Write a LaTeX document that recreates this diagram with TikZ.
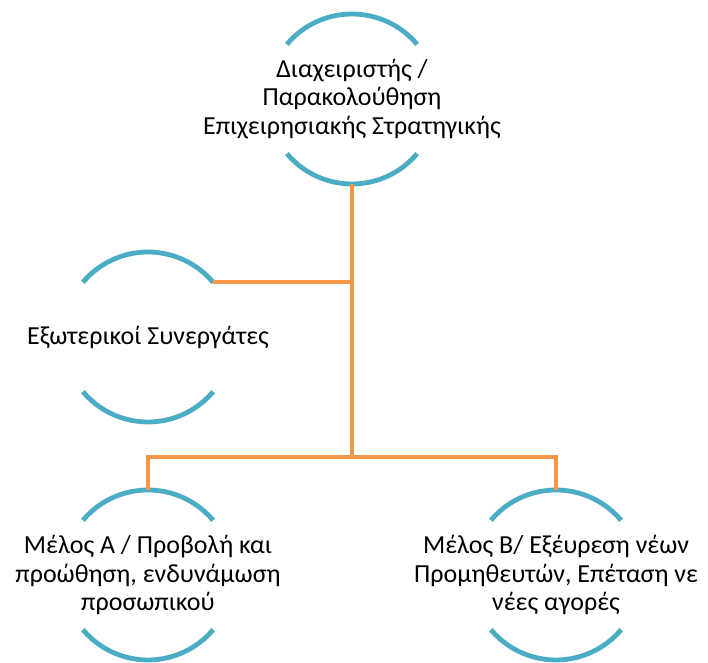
\documentclass[tikz,border=0pt]{standalone}
\usepackage{fontspec}
\setmainfont{Carlito}
\usepackage{tikz}

\definecolor{rimblue}{HTML}{4BACC6}
\definecolor{linkorange}{HTML}{F79646}

% two arcs above and below a text node
\newcommand{\rimpair}[1]{%
  \draw[rim] ([shift={(40:63.75pt)}]#1.center) arc[start angle=40,end angle=140,radius=63.75pt];
  \draw[rim] ([shift={(220:63.75pt)}]#1.center) arc[start angle=220,end angle=320,radius=63.75pt];}

\begin{document}
\begin{tikzpicture}[x=0.75pt,y=0.75pt,
    rim/.style={draw=rimblue,line width=3.6pt},
    link/.style={draw=linkorange,line width=3pt},
    txt/.style={align=center,font=\fontsize{19.5}{21.5}\selectfont}]
    \useasboundingbox (0,0) rectangle (708,663);

    \node[txt] (mgr) at (352,564) {Διαχειριστής /\\Παρακολούθηση\\Επιχειρησιακής Στρατηγικής};
    \node[txt] (ext) at (148,326) {Εξωτερικοί Συνεργάτες};
    \node[txt] (memA) at (148,88) {Μέλος Α / Προβολή και\\προώθηση, ενδυνάμωση\\προσωπικού};
    \node[txt] (memB) at (556,88) {Μέλος Β/ Εξέυρεση νέων\\Προμηθευτών, Επέταση νε\\νέες αγορές};

    \rimpair{mgr}
    \rimpair{ext}
    \rimpair{memA}
    \rimpair{memB}

    \coordinate (mgr-s) at ([yshift=-63.75pt]mgr.center);
    \coordinate (ext-e) at ([shift={(40:63.75pt)}]ext.center);
    \coordinate (memA-n) at ([yshift=63.75pt]memA.center);
    \coordinate (memB-n) at ([yshift=63.75pt]memB.center);
    \coordinate (fork) at (352,206);

    \draw[link] (mgr-s) -- (fork);
    \draw[link] (ext-e) -- (ext-e -| mgr-s);
    \draw[link] (memA-n) |- (fork) -| (memB-n);
\end{tikzpicture}
\end{document}
